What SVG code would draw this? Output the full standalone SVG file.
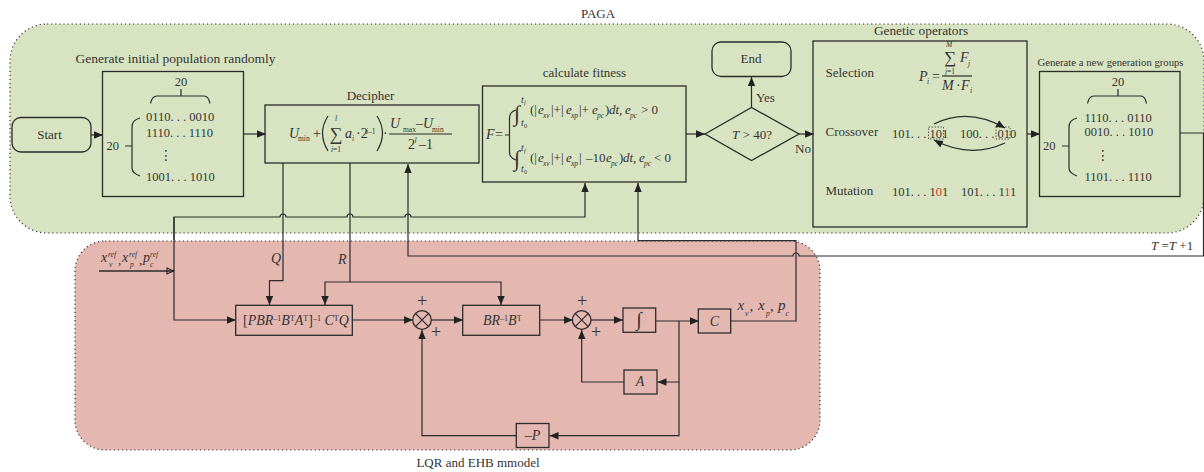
<svg xmlns="http://www.w3.org/2000/svg" width="1204" height="472" viewBox="0 0 1204 472">
<style>
text{font-family:"Liberation Serif","Times New Roman",serif;font-size:13px;fill:#333}
.i{font-style:italic}
.m{text-anchor:middle}
.s{font-size:7.5px}
.n{font-size:12.5px}
.f{font-size:14px}
.o{font-size:15px}
.dots{font-family:"DejaVu Sans",sans-serif;font-size:14px}
.box{fill:none;stroke:#2b2b2b;stroke-width:1.3}
.c{fill:none;stroke:#2b2b2b;stroke-width:1.2}
.a{marker-end:url(#ah)}
.red{fill:#e0322c}
.reg{stroke:#333;stroke-width:1.2;stroke-dasharray:1.2 2.9}
.dash{fill:none;stroke:#333;stroke-width:.8;stroke-dasharray:1.5 1.5}
</style>
<defs>
<marker id="ah" markerUnits="userSpaceOnUse" markerWidth="10" markerHeight="8" refX="9" refY="4" orient="auto"><path d="M0,0.3L9,4L0,7.7z" fill="#222"/></marker>
<marker id="ho" markerUnits="userSpaceOnUse" markerWidth="10" markerHeight="8" refX="8" refY="4" orient="auto"><path d="M1,1L7.5,4L1,7z" fill="none" stroke="#222" stroke-width="1.1"/></marker>
</defs>
<g id="region-paga"><rect class="reg" x="10" y="24" width="1194" height="209" rx="37" fill="#d8e4c1"/><text class="m" x="598" y="18">PAGA</text></g>
<g id="region-lqr"><rect class="reg" x="75" y="241" width="745" height="209" rx="30" fill="#e5b7b1"/><text class="m" x="478" y="467">LQR and EHB mmodel</text></g>

<g id="connectors">
<path class="c a" d="M91,135H103"/>
<path class="c a" d="M243.500,134H266"/>
<path class="c a" d="M686,134H705"/>
<path class="c a" d="M751.500,107V77"/>
<path class="c a" d="M799,134H814"/>
<path class="c a" d="M1027,134H1040"/>
<path class="c a" d="M1180,133H1203.500V256H799a3,3 0 0 0 -6,0H408V164"/>
<path class="c a" d="M730.500,321H796V240.700H638V183"/>
<path class="c a" d="M174,240V217H280a3,3 0 0 1 6,0H347a3,3 0 0 1 6,0H405a3,3 0 0 1 6,0H585V183"/>
<path class="c a" d="M174,217V320H236"/>
<path class="c a" d="M283,163V280.700H269.500V305"/>
<path class="c" d="M350,163V282"/>
<path class="c a" d="M350,282H325V305"/>
<path class="c a" d="M350,282H501V305"/>
<path class="c a" d="M352,320H413"/>
<path class="c a" d="M431.500,320H463"/>
<path class="c a" d="M539.700,320H573"/>
<path class="c a" d="M591,320H623"/>
<path class="c a" d="M655.700,321H699"/>
<path class="c a" d="M679,321V382H657.500"/>
<path class="c a" d="M679,382V435.700H549.500"/>
<path class="c a" d="M624,382H581.700V330"/>
<path class="c a" d="M516,435.700H422V330"/>
<path d="M99,271H174" fill="none" stroke="#2b2b2b" stroke-width="1.4" marker-end="url(#ho)"/>
</g>

<g id="start"><rect class="box" x="12" y="117.500" width="79" height="34.500" rx="9"/><text class="m" x="49.500" y="139">Start</text></g>

<g id="init-pop">
<rect class="box" x="102.500" y="71.500" width="141" height="125"/>
<text class="m" x="175.500" y="63" style="font-size:13.5px">Generate initial population randomly</text>
<text class="m n" x="181" y="86">20</text>
<path class="c" d="M150.500,103.500Q152,96 157,96H204Q208.500,96 210,103.500M181,89V96"/>
<text class="n" x="106.500" y="150">20</text>
<path class="c" d="M140,118Q132,120 132,127V168Q132,173 140,176M125,146H132" />
<text class="n" x="146" y="121">0110. . . 0010</text>
<text class="n" x="146" y="137">1110. . . 1110</text>
<text class="m dots" x="166" y="160">⋮</text>
<text class="n" x="146" y="181">1001. . . 1010</text>
</g>

<g id="decipher">
<rect class="box" x="265" y="105" width="214" height="58"/>
<text class="m" x="370.500" y="100">Decipher</text>
<text class="i f" x="289" y="138">U</text><text class="s" x="298" y="141">min</text>
<text class="f" x="313" y="138">+</text>
<path class="c" d="M328,116Q317,133 328,151M377,116Q388,133 377,151"/>
<text class="m" x="336" y="140" style="font-size:18px">∑</text>
<text class="m i s" x="336" y="121">l</text><text class="m s" x="336" y="152"><tspan class="i">i</tspan>=1</text>
<text class="i f" x="345" y="138">a</text><text class="i s" x="352" y="141">i</text>
<text class="f" x="356" y="138">·2</text><text class="s" x="366" y="134"><tspan class="i">i</tspan>–1</text>
<text class="f" x="383" y="138">·</text>
<path class="c" d="M389,134H452"/>
<text class="i f" x="390" y="128">U</text><text class="s" x="403" y="132">max</text>
<text class="f" x="416" y="128">–</text><text class="i f" x="423" y="128">U</text><text class="s" x="432" y="132">min</text>
<text class="f" x="408" y="149">2</text><text class="i s" x="414.500" y="143">l</text><text class="f" x="419" y="149">–1</text>
</g>

<g id="fitness">
<rect class="box" x="482.500" y="86" width="203.500" height="96"/>
<text class="m" x="584.500" y="77">calculate fitness</text>
<text class="i f" x="486" y="139">F</text><text class="f" x="495" y="139">=</text>
<path class="c" d="M516,110Q509.500,112 509.500,118V152Q509.500,158 516,160M505,135H509.500"/>
<text x="514" y="121" style="font-size:22px">∫</text>
<text class="i" x="521" y="103" style="font-size:10px">t</text><text class="i s" x="524" y="105" style="font-size:6px">f</text>
<text class="i" x="521" y="126" style="font-size:10px">t</text><text class="s" x="524" y="128" style="font-size:6px">0</text>
<text x="530" y="114">(|</text><text class="i" x="538" y="114">e</text><text class="i s" x="543" y="118">xv</text><text x="551" y="114">|+|</text><text class="i" x="566" y="114">e</text><text class="i s" x="571" y="118">xp</text><text x="579" y="114">|+</text><text class="i" x="592" y="114">e</text><text class="i s" x="597" y="118">pc</text><text x="605" y="114">)</text><text class="i" x="609" y="114">dt,</text><text class="i" x="625" y="114">e</text><text class="i s" x="630" y="118">pc</text><text x="641" y="114">&gt; 0</text>
<text x="514" y="166" style="font-size:22px">∫</text>
<text class="i" x="521" y="151" style="font-size:10px">t</text><text class="i s" x="524" y="153" style="font-size:6px">f</text>
<text class="i" x="521" y="172" style="font-size:10px">t</text><text class="s" x="524" y="174" style="font-size:6px">0</text>
<text x="530" y="162">(|</text><text class="i" x="538" y="162">e</text><text class="i s" x="543" y="166">xv</text><text x="551" y="162">|+|</text><text class="i" x="566" y="162">e</text><text class="i s" x="571" y="166">xp</text><text x="579" y="162">|</text><text x="586" y="162">–10</text><text class="i" x="606" y="162">e</text><text class="i s" x="611" y="166">pc</text><text x="619" y="162">)</text><text class="i" x="623" y="162">dt,</text><text class="i" x="639" y="162">e</text><text class="i s" x="644" y="166">pc</text><text x="654" y="162">&lt; 0</text>
</g>

<g id="decision"><path class="box" d="M705,134L751.500,107.500L799,134L751.500,160.500z"/><text class="m" x="752" y="139"><tspan class="i">T</tspan> &gt; 40?</text><text x="756" y="102">Yes</text><text x="795" y="153">No</text></g>

<g id="end"><rect class="box" x="712" y="42" width="79" height="34.500" rx="9"/><text class="m" x="751" y="63">End</text></g>

<g id="genetic">
<rect class="box" x="813" y="41" width="214" height="186"/>
<text class="m" x="921" y="35" style="font-size:13.3px">Genetic operators</text>
<text x="825.500" y="77">Selection</text><text x="825.500" y="136">Crossover</text><text x="825.500" y="195">Mutation</text>
<text class="i f" x="919" y="81">P</text><text class="i s" x="927" y="84">i</text><text class="f" x="932" y="81">=</text>
<path class="c" d="M942,76H972"/>
<text class="m" x="950" y="63" style="font-size:17px">∑</text><text class="m i s" x="949" y="47">M</text><text class="m s" x="950" y="74"><tspan class="i">j</tspan>=1</text>
<text class="i f" x="960" y="62">F</text><text class="i s" x="968" y="66">j</text>
<text class="i f" x="942" y="90">M</text><text class="f" x="956" y="90">·</text><text class="i f" x="961" y="90">F</text><text class="i s" x="970" y="93">i</text>
<text class="n" x="892" y="138">101. . . 101</text><text class="n" x="960" y="138">100. . . 010</text>
<rect class="dash" x="928.500" y="127" width="15" height="12"/><rect class="dash" x="996" y="127" width="14" height="12"/>
<path class="c a" d="M934,124Q968,107 1005,128"/>
<path class="c a" d="M1005,143Q970,159 934,140"/>
<text class="n" x="892" y="196">101. . . 1<tspan class="red">0</tspan>1</text>
<text class="n" x="961" y="196">101. . . 1<tspan class="red">1</tspan>1</text>
</g>

<g id="new-gen">
<rect class="box" x="1039.500" y="71.500" width="140.500" height="125"/>
<text class="m" x="1110.500" y="66" style="font-size:10.700px">Generate a new generation groups</text>
<text class="m n" x="1118" y="86">20</text>
<path class="c" d="M1087.500,103.500Q1089,96 1094,96H1141Q1145,96 1146.500,103.500M1118,89V96"/>
<text class="n" x="1043" y="150">20</text>
<path class="c" d="M1077,118Q1069,120 1069,127V168Q1069,173 1077,176M1062,146H1069"/>
<text class="n" x="1084.500" y="122">1110. . . 0110</text>
<text class="n" x="1084.500" y="136">0010. . . 1010</text>
<text class="m dots" x="1103" y="160">⋮</text>
<text class="n" x="1084.500" y="181">1101. . . 1110</text>
</g>
<text id="t-update" x="1151" y="250"><tspan class="i">T</tspan> =<tspan class="i">T</tspan> +1</text>

<g id="input-label">
<text class="i f" x="101" y="262">x</text><text class="i s" x="109" y="267">v</text><text class="i s" x="108" y="257">ref</text><text x="118" y="264">,</text>
<text class="i f" x="122" y="262">x</text><text class="i s" x="130" y="267">p</text><text class="i s" x="129" y="257">ref</text><text x="139" y="264">,</text>
<text class="i f" x="143" y="262">p</text><text class="i s" x="150" y="267">c</text><text class="i s" x="150" y="257">ref</text>
</g>
<text id="label-q" class="i f" x="271" y="263">Q</text>
<text id="label-r" class="i f" x="338" y="264">R</text>

<g id="gain-box">
<rect class="box" x="235.700" y="305.300" width="116.600" height="30"/>
<text class="f" x="243" y="325">[<tspan class="i">PBR</tspan><tspan dy="-4" style="font-size:8px">–1</tspan><tspan class="i" dy="4">B</tspan><tspan dy="-4" style="font-size:8px">T</tspan><tspan class="i" dy="4">A</tspan><tspan dy="-4" style="font-size:8px">T</tspan><tspan dy="4">]</tspan><tspan dy="-4" style="font-size:8px">–1</tspan><tspan dy="4"> </tspan><tspan class="i">C</tspan><tspan dy="-4" style="font-size:8px">T</tspan><tspan class="i" dy="4">Q</tspan></text>
</g>
<g id="sum1"><circle class="box" cx="422" cy="320" r="9.300"/><path class="c" d="M415.400,313.400L428.600,326.600M428.600,313.400L415.400,326.600"/><text class="m" x="422" y="307" style="font-size:18px">+</text><text class="m" x="436" y="338" style="font-size:18px">+</text></g>
<g id="br-box"><rect class="box" x="462.700" y="305.300" width="77" height="30"/><text class="f" x="483" y="325"><tspan class="i">BR</tspan><tspan dy="-4" style="font-size:8px">–1</tspan><tspan class="i" dy="4">B</tspan><tspan dy="-4" style="font-size:8px">T</tspan></text></g>
<g id="sum2"><circle class="box" cx="581.700" cy="320" r="9.300"/><path class="c" d="M575.100,313.400L588.300,326.600M588.300,313.400L575.100,326.600"/><text class="m" x="582" y="307" style="font-size:18px">+</text><text class="m" x="596" y="338" style="font-size:18px">+</text></g>
<g id="integrator"><rect class="box" x="623" y="308" width="32.700" height="24.300"/><text class="m" x="639" y="326" style="font-size:20px">∫</text></g>
<g id="c-box"><rect class="box" x="698.300" y="309" width="32.400" height="24"/><text class="m i f" x="714.500" y="326">C</text></g>
<g id="a-box"><rect class="box" x="624" y="370" width="33" height="24"/><text class="m i f" x="640" y="386">A</text></g>
<g id="p-box"><rect class="box" x="516.300" y="423.500" width="32.700" height="24"/><text class="m f" x="532.500" y="440">–<tspan class="i">P</tspan></text></g>
<g id="output-label">
<text class="i o" x="737.500" y="310">x</text><text class="i s" x="745" y="316">v</text><text class="o" x="749.500" y="311">,</text>
<text class="i o" x="758" y="310">x</text><text class="i s" x="766" y="316">p</text><text class="o" x="770" y="311">,</text>
<text class="i o" x="778" y="310">p</text><text class="i s" x="785.500" y="316">c</text>
</g>
</svg>
